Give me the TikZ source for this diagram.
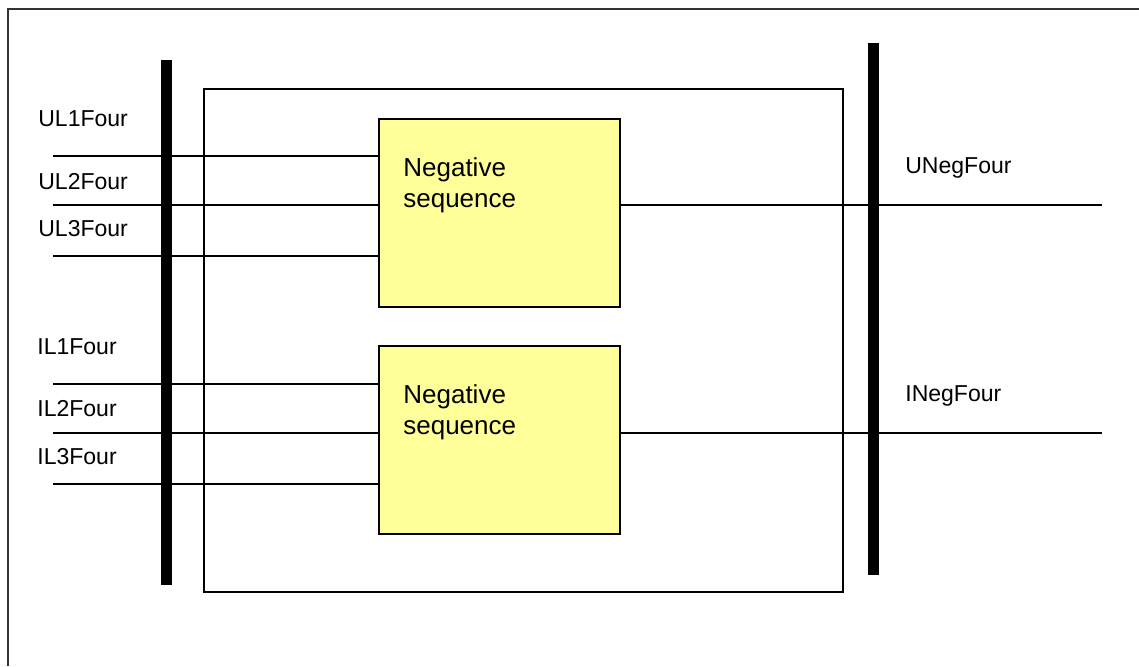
\documentclass[tikz,border=0pt]{standalone}
\usepackage{fontspec}
\setmainfont{Liberation Sans}
\definecolor{nsyellow}{RGB}{255,255,153}
\begin{document}
\begin{tikzpicture}[x=0.02cm,y=-0.02cm,
  wire/.style={line width=1.1pt},
  frameline/.style={line width=0.9pt,draw=black!80},
  lbl/.style={anchor=base west,inner sep=0pt,font=\fontsize{13.1}{15}\selectfont},
  nsbox/.style={draw,line width=1.4pt,fill=nsyellow,minimum width=4.82cm,minimum height=3.76cm,inner sep=0pt},
  nstext/.style={anchor=base west,inner sep=0pt,align=left,font=\fontsize{14.8}{17.1}\selectfont},
  bus/.style={fill=black,draw=none,minimum width=0.22cm,inner sep=0pt},
  outerbox/.style={draw,line width=1.4pt,minimum width=12.78cm,minimum height=10.06cm,inner sep=0pt}]
\useasboundingbox (0,0) rectangle (1139,666);
% frame
\draw[frameline] (8,666) -- (8,9) -- (1139,9);
% outer box
\node[outerbox] (outer) at (523.5,340.5) {};
% bus bars
\node[bus,minimum height=10.5cm] (lbus) at (166.5,322.5) {};
\node[bus,minimum height=10.64cm] (rbus) at (873.5,309) {};
% function blocks
\node[nsbox] (neg1) at (499.5,213) {};
\node[nsbox] (neg2) at (499.5,440) {};
\node[nstext] (t1) at (403,207) {Negative\\sequence};
\node[nstext] (t2) at (403,434) {Negative\\sequence};
% input coordinates
\coordinate (ul1) at (53,156);
\coordinate (ul2) at (53,205);
\coordinate (ul3) at (53,256);
\coordinate (il1) at (53,384);
\coordinate (il2) at (53,433);
\coordinate (il3) at (53,484);
\coordinate (uo) at (1102,205);
\coordinate (io) at (1102,433);
% wires
\draw[wire] (ul1) -- (ul1 -| neg1.west);
\draw[wire] (ul2) -- (ul2 -| neg1.west);
\draw[wire] (ul3) -- (ul3 -| neg1.west);
\draw[wire] (il1) -- (il1 -| neg2.west);
\draw[wire] (il2) -- (il2 -| neg2.west);
\draw[wire] (il3) -- (il3 -| neg2.west);
\draw[wire] (uo -| neg1.east) -- (uo);
\draw[wire] (io -| neg2.east) -- (io);
% labels
\node[lbl] (lul1) at (38,126) {UL1Four};
\node[lbl] (lul2) at (38,189) {UL2Four};
\node[lbl] (lul3) at (38,236) {UL3Four};
\node[lbl] (lil1) at (37,354) {IL1Four};
\node[lbl] (lil2) at (37,416) {IL2Four};
\node[lbl] (lil3) at (37,464) {IL3Four};
\node[lbl] (luo) at (905,173) {UNegFour};
\node[lbl] (lio) at (905,401) {INegFour};
\end{tikzpicture}
\end{document}
